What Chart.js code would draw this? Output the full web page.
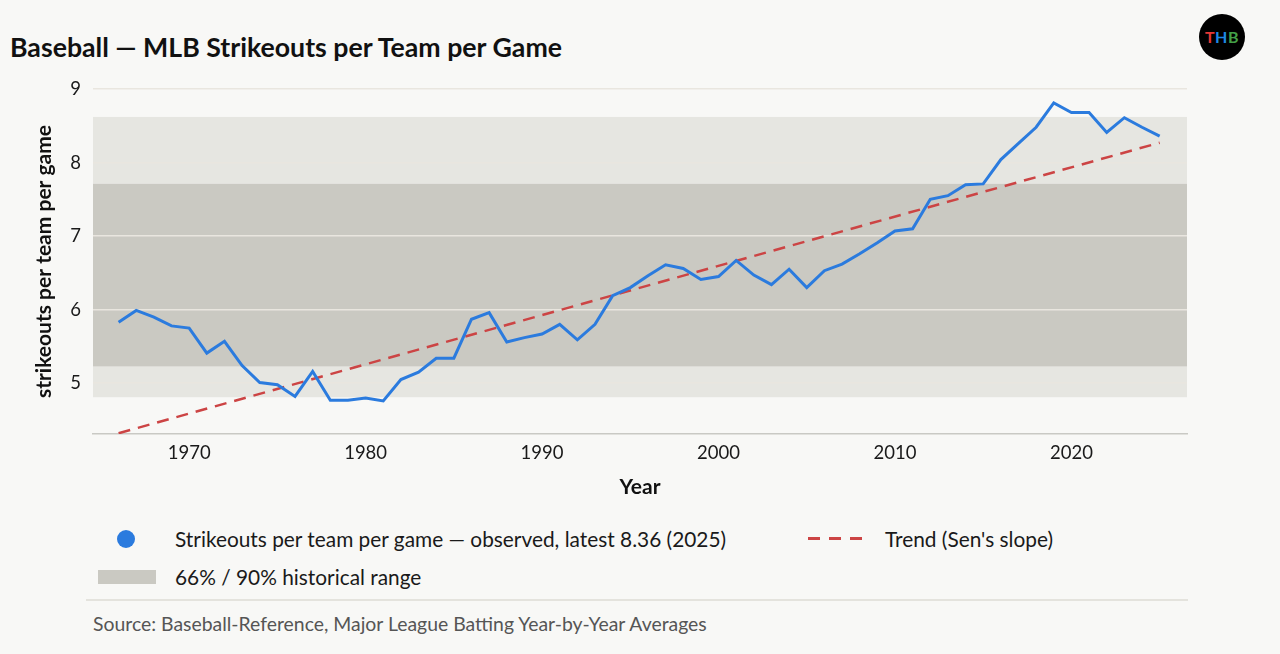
<!DOCTYPE html>
<html>
<head>
<meta charset="utf-8">
<script src="https://cdn.jsdelivr.net/npm/chart.js@4"></script>
<style>
  body { margin: 0; background: #f8f8f6; font-family: Lato, sans-serif; color: #1a1a1a; }
  #wrap { position: relative; width: 1280px; height: 654px; overflow: hidden; }
  #title { position: absolute; left: 10px; top: 30px; font-size: 26.7px; font-weight: bold; line-height: 34px; color: #111; white-space: nowrap; }
  #logo { position: absolute; left: 1199px; top: 14px; width: 46px; height: 46px; border-radius: 50%; background: #000;
          font-weight: bold; font-size: 16px; line-height: 46px; text-align: center; letter-spacing: 0.5px; }
  #chart { position: absolute; left: 0; top: 60px; }
  .leg { position: absolute; font-size: 20.85px; line-height: 26px; color: #1a1a1a; white-space: nowrap; }
  .dot { position: absolute; left: 117px; top: 530px; width: 18px; height: 18px; border-radius: 50%; background: #2b7bde; }
  .box { position: absolute; left: 98px; top: 570px; width: 58px; height: 14px; background: #cac9c2; }
  .dash { position: absolute; top: 537px; height: 3px; width: 12px; background: #cc4444; }
  #rule { position: absolute; left: 86px; top: 599px; width: 1102px; height: 2px; background: #e4e3dd; }
  #source { position: absolute; left: 93px; top: 612px; font-size: 19.4px; line-height: 24px; color: #555; white-space: nowrap; }
</style>
</head>
<body>
<div id="wrap">
  <div id="title">Baseball — MLB Strikeouts per Team per Game</div>
  <div id="logo"><span style="color:#e53935">T</span><span style="color:#1e88e5">H</span><span style="color:#43a047">B</span></div>
  <canvas id="chart" width="1200" height="450"></canvas>

  <div class="dot"></div>
  <div class="leg" style="left:175px; top:526px;">Strikeouts per team per game — observed, latest 8.36 (2025)</div>
  <div class="dash" style="left:808px;"></div>
  <div class="dash" style="left:829px;"></div>
  <div class="dash" style="left:850px;"></div>
  <div class="leg" style="left:885px; top:526px;">Trend (Sen's slope)</div>
  <div class="box"></div>
  <div class="leg" style="left:175px; top:564px;">66% / 90% historical range</div>
  <div id="rule"></div>
  <div id="source">Source: Baseball-Reference, Major League Batting Year-by-Year Averages</div>
</div>

<script>
// observed strikeouts per team per game, 1966-2025
const years = [
  1966, 1967, 1968, 1969, 1970, 1971, 1972, 1973, 1974, 1975,
  1976, 1977, 1978, 1979, 1980, 1981, 1982, 1983, 1984, 1985,
  1986, 1987, 1988, 1989, 1990, 1991, 1992, 1993, 1994, 1995,
  1996, 1997, 1998, 1999, 2000, 2001, 2002, 2003, 2004, 2005,
  2006, 2007, 2008, 2009, 2010, 2011, 2012, 2013, 2014, 2015,
  2016, 2017, 2018, 2019, 2020, 2021, 2022, 2023, 2024, 2025
];
const strikeouts = [
  5.83, 5.99, 5.90, 5.78, 5.75, 5.41, 5.57, 5.24, 5.01, 4.98,
  4.82, 5.16, 4.77, 4.77, 4.80, 4.76, 5.05, 5.15, 5.34, 5.34,
  5.87, 5.96, 5.56, 5.62, 5.67, 5.80, 5.59, 5.80, 6.19, 6.30,
  6.46, 6.61, 6.56, 6.41, 6.45, 6.67, 6.47, 6.34, 6.55, 6.30,
  6.53, 6.62, 6.76, 6.91, 7.07, 7.10, 7.50, 7.55, 7.70, 7.71,
  8.04, 8.26, 8.48, 8.81, 8.68, 8.68, 8.41, 8.61, 8.48, 8.36
];

// Sen's slope trend, endpoints
const trendYears = [1966, 2025];
const trendValues = [4.32, 8.27];

// historical ranges
const range90 = [4.81, 8.62];
const range66 = [5.23, 7.71];

const yTicks = [5, 6, 7, 8, 9];
const xTicks = [1970, 1980, 1990, 2000, 2010, 2020];

const bandsPlugin = {
  id: 'bands',
  beforeDraw(chart) {
    const ctx = chart.ctx;
    const area = chart.chartArea;
    const y = chart.scales.y;
    ctx.save();
    ctx.fillStyle = '#e6e6e1';
    let top = y.getPixelForValue(range90[1]);
    let bot = y.getPixelForValue(range90[0]);
    ctx.fillRect(area.left, top, area.right - area.left, bot - top);
    ctx.fillStyle = '#cac9c2';
    top = y.getPixelForValue(range66[1]);
    bot = y.getPixelForValue(range66[0]);
    ctx.fillRect(area.left, top, area.right - area.left, bot - top);
    ctx.restore();
  }
};

const ctx = document.getElementById('chart').getContext('2d');
new Chart(ctx, {
  type: 'line',
  data: {
    datasets: [{
      label: 'observed',
      data: years.map((yr, i) => ({ x: yr, y: strikeouts[i] })),
      borderColor: '#2b7bde',
      borderWidth: 3,
      pointRadius: 0,
      tension: 0
    }, {
      label: 'trend',
      data: trendYears.map((yr, i) => ({ x: yr, y: trendValues[i] })),
      borderColor: '#cc4444',
      borderWidth: 2.5,
      borderDash: [12, 8],
      pointRadius: 0
    }]
  },
  options: {
    responsive: false,
    animation: false,
    layout: { padding: { left: 28, top: 29, right: 13, bottom: 6 } },
    plugins: { legend: { display: false }, tooltip: { enabled: false } },
    scales: {
      x: {
        type: 'linear',
        min: 1964.55,
        max: 2026.55,
        afterBuildTicks: scale => { scale.ticks = xTicks.map(v => ({ value: v })); },
        afterFit: scale => { scale.height = 70; },
        grid: { display: false, drawTicks: false },
        border: { display: true, color: '#c9c9c4', width: 1.5 },
        ticks: { padding: 8, color: '#1a1a1a', font: { family: 'Lato', size: 18.5 }, maxRotation: 0, callback: v => String(v) },
        title: { display: true, text: 'Year', color: '#111', font: { family: 'Lato', size: 21, weight: 'bold' }, padding: { top: 11, bottom: 4 } }
      },
      y: {
        min: 4.31,
        max: 9,
        afterBuildTicks: scale => { scale.ticks = yTicks.map(v => ({ value: v })); },
        afterFit: scale => { scale.width = 65; },
        grid: { color: '#e9e6df', lineWidth: 1.5, drawTicks: false },
        border: { display: false },
        ticks: { padding: 12, color: '#1a1a1a', font: { family: 'Lato', size: 18.5 } },
        title: { display: true, text: 'strikeouts per team per game', color: '#111', font: { family: 'Lato', size: 21, weight: 'bold' }, padding: { top: 4, bottom: 4 } }
      }
    }
  },
  plugins: [bandsPlugin]
});
</script>
</body>
</html>
